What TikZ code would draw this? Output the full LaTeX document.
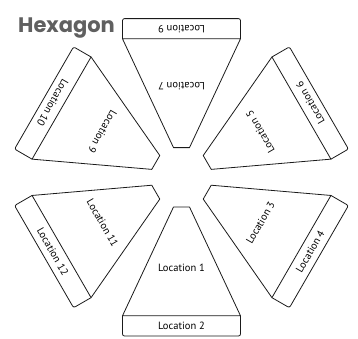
\documentclass[tikz,border=0pt]{standalone}
\usepackage{fontspec}
\setmainfont{PT Sans}
\newfontfamily\titlefont{Poppins}
\definecolor{titlegray}{HTML}{606060}
\definecolor{linegray}{HTML}{1A1A1A}
\begin{document}
\begin{tikzpicture}[x=1pt,y=1pt,
  seg/.style={draw=linegray,line width=0.8pt,line join=round},
  lab/.style={font=\fontsize{10.5}{12}\selectfont,inner sep=0pt,text=black},
  ttl/.style={font=\titlefont\bfseries\fontsize{21}{24}\selectfont,text=titlegray,inner sep=0pt,anchor=base west}]
\useasboundingbox (-181.5,-160.7) rectangle (176.5,177.3);
\node[ttl] (title) at (-163.5,145.3) {Hexagon};
\foreach \k/\a/\b in {0/1/2,1/3/4,2/5/6,3/7/9,4/9/10,5/11/12}{
  \begin{scope}[rotate=\k*60]
    \draw[seg] (-8,-29.7) -- (8,-29.7) -- (59,-138.5) -- (-59,-138.5) -- cycle;
    \draw[seg,rounded corners=2] (-59,-138.5) -- (-59,-158.7) -- (59,-158.7) -- (59,-138.5);
    \node[lab,rotate=\k*60] (t\k) at (0,-91) {Location \a};
    \node[lab,rotate=\k*60] (s\k) at (0,-148.6) {Location \b};
  \end{scope}
}
\end{tikzpicture}
\end{document}
